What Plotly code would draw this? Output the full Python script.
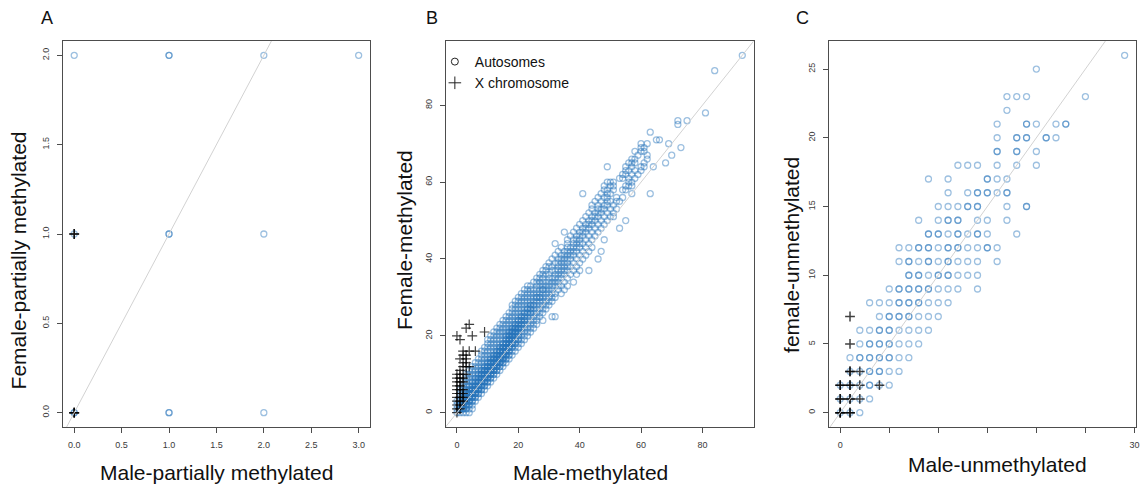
import plotly.graph_objects as go

W, H = 1143, 489

# ---------------- Panel A : partially methylated ----------------
a_auto_male   = [0, 0, 0, 0, 1, 1, 1, 1, 1, 1, 2, 2, 2, 3]
a_auto_female = [0, 0, 1, 2, 0, 0, 1, 1, 2, 2, 0, 1, 2, 2]
a_x_male   = [0, 0, 0, 0, 0]
a_x_female = [0, 0, 0, 1, 1]

# ---------------- Panel B : methylated (female value, male values) ----------------
b_auto_rows_low = [
    (0, [0, 1, 2, 3, 4]),
    (1, [0, 1, 2, 3, 4, 5]),
    (2, [0, 1, 2, 3, 4, 5]),
    (3, [0, 1, 2, 3, 4, 5, 6]),
    (4, [1, 2, 3, 4, 5, 6, 7]),
    (5, [1, 2, 3, 4, 5, 6, 7, 8]),
    (6, [1, 2, 3, 4, 5, 6, 7, 8, 9]),
    (7, [2, 3, 4, 5, 6, 7, 8, 9, 10]),
    (8, [2, 3, 4, 5, 6, 7, 8, 9, 10, 11]),
    (9, [3, 4, 5, 6, 7, 8, 9, 10, 11, 12]),
    (10, [3, 4, 5, 6, 7, 8, 9, 10, 11, 12, 13]),
    (11, [4, 5, 6, 7, 8, 9, 10, 11, 12, 13, 14]),
    (12, [5, 6, 7, 8, 9, 10, 11, 12, 13, 14, 15]),
    (13, [6, 7, 8, 9, 10, 11, 12, 13, 14, 15, 16]),
    (14, [7, 8, 9, 10, 11, 12, 13, 14, 15, 16, 17]),
    (15, [8, 9, 10, 11, 12, 13, 14, 15, 16, 17, 18]),
    (16, [8, 9, 10, 11, 12, 13, 14, 15, 16, 17, 18, 19]),
    (17, [9, 10, 11, 12, 13, 14, 15, 16, 17, 18, 19, 20]),
    (18, [10, 11, 12, 13, 14, 15, 16, 17, 18, 19, 20, 21]),
    (19, [10, 11, 12, 13, 14, 15, 16, 17, 18, 19, 20, 21, 22]),
]
b_auto_rows_mid = [
    (20, [11, 12, 13, 14, 15, 16, 17, 18, 19, 20, 21, 22, 23]),
    (21, [12, 13, 14, 15, 16, 17, 18, 19, 20, 21, 22, 23, 24]),
    (22, [13, 14, 15, 16, 17, 18, 19, 20, 21, 22, 23, 24, 25]),
    (23, [14, 15, 16, 17, 18, 19, 20, 21, 22, 23, 24, 25, 26]),
    (24, [15, 16, 17, 18, 19, 20, 21, 22, 23, 24, 25, 26, 28]),
    (25, [16, 17, 18, 19, 20, 21, 22, 23, 24, 25, 26, 27, 31, 32]),
    (26, [17, 18, 19, 20, 21, 22, 23, 24, 25, 26, 27, 28]),
    (27, [18, 19, 20, 21, 22, 23, 24, 25, 26, 27, 28, 29]),
    (28, [18, 19, 20, 21, 22, 23, 24, 25, 26, 27, 28, 29, 30]),
    (29, [19, 20, 21, 22, 23, 24, 25, 26, 27, 28, 29, 30, 31]),
    (30, [20, 21, 22, 23, 24, 25, 26, 27, 28, 29, 30, 31, 32]),
    (31, [21, 22, 23, 24, 25, 26, 27, 28, 29, 30, 31, 32, 34]),
    (32, [22, 23, 24, 25, 26, 27, 28, 29, 30, 31, 33, 35]),
    (33, [23, 24, 26, 27, 28, 29, 30, 31, 32, 33, 34, 36]),
    (34, [25, 26, 27, 28, 29, 30, 31, 32, 33, 35, 38]),
    (35, [26, 27, 28, 30, 31, 32, 33, 34, 36]),
    (36, [27, 28, 29, 30, 32, 33, 34, 35, 37, 39]),
    (37, [28, 29, 31, 32, 33, 34, 35, 36, 38, 40, 43]),
    (38, [29, 30, 31, 33, 34, 35, 36, 37, 39]),
    (39, [30, 32, 33, 34, 35, 36, 38, 40]),
]
b_auto_rows_high = [
    (40, [31, 33, 34, 35, 36, 37, 39, 41, 46]),
    (41, [32, 34, 35, 36, 37, 38, 40, 42]),
    (42, [33, 35, 36, 37, 38, 39, 41, 43, 47]),
    (43, [34, 36, 37, 38, 39, 40, 42, 44]),
    (44, [32, 36, 38, 39, 40, 41, 43]),
    (45, [36, 38, 39, 40, 42, 44, 48]),
    (46, [37, 39, 40, 41, 43, 45]),
    (47, [35, 38, 40, 41, 42, 44, 46]),
    (48, [39, 41, 42, 43, 45, 47, 53]),
    (49, [40, 42, 43, 44, 46, 48]),
    (50, [41, 43, 44, 45, 47, 49, 55]),
    (51, [42, 44, 45, 46, 48, 50, 51]),
    (52, [43, 45, 46, 47, 49, 51]),
    (53, [44, 46, 47, 48, 50, 52]),
    (54, [44, 46, 48, 49, 51]),
    (55, [45, 47, 49, 50, 52, 53]),
    (56, [46, 48, 49, 52, 54]),
    (57, [41, 47, 49, 50, 57, 63]),
    (58, [48, 49, 51, 54, 55]),
    (59, [48, 50, 51, 55, 56, 57]),
    (60, [49, 50, 51, 56, 57]),
    (61, [53, 54, 56, 58]),
    (62, [54, 55, 57, 59]),
    (63, [55, 56, 58, 60]),
    (64, [49, 55, 57, 60, 61, 64]),
    (65, [56, 57, 58, 61, 68]),
    (66, [57, 58, 62]),
    (67, [59, 62, 70]),
    (68, [58, 60, 61]),
    (69, [60, 61, 73]),
    (70, [60, 62, 69]),
    (71, [65, 66]),
    (73, [63]),
    (75, [72]),
    (76, [72, 75]),
    (78, [81]),
    (89, [84]),
    (93, [93]),
]
# loci repeated at the same coordinates in the dark core of the band
b_auto_rows_core = [
    (1, [1, 2, 3, 1, 2]),
    (2, [1, 2, 3, 4, 2, 3]),
    (3, [2, 3, 4, 5, 3, 4]),
    (4, [2, 3, 4, 5, 6, 3, 4, 5]),
    (5, [3, 4, 5, 6, 7, 4, 5, 6]),
    (6, [3, 4, 5, 6, 7, 8, 5, 6, 7]),
    (7, [4, 5, 6, 7, 8, 9, 6, 7, 8]),
    (8, [5, 6, 7, 8, 9, 10, 7, 8, 9]),
    (9, [6, 7, 8, 9, 10, 11, 8, 9, 10]),
    (10, [7, 8, 9, 10, 11, 12, 8, 9, 10, 11]),
    (11, [8, 9, 10, 11, 12, 13, 9, 10, 11, 12]),
    (12, [9, 10, 11, 12, 13, 14, 10, 11, 12, 13]),
    (13, [10, 11, 12, 13, 14, 15, 11, 12, 13, 14]),
    (14, [11, 12, 13, 14, 15, 16, 12, 13, 14, 15]),
    (15, [12, 13, 14, 15, 16, 17, 13, 14, 15, 16]),
    (16, [13, 14, 15, 16, 17, 14, 15, 16]),
    (17, [14, 15, 16, 17, 18, 15, 16, 17]),
    (18, [15, 16, 17, 18, 19, 16, 17, 18]),
    (19, [16, 17, 18, 19, 20, 17, 18]),
    (20, [16, 17, 18, 19, 20, 17, 18]),
    (21, [17, 18, 19, 20, 18, 19]),
    (22, [18, 19, 20, 21, 19, 20]),
    (23, [19, 20, 21, 22]),
    (24, [20, 21, 22]),
    (25, [21, 22]),
    (26, [22, 23, 24]),
    (27, [23, 24]),
    (28, [24, 25]),
    (30, [26, 27]),
    (32, [28]),
]
b_x_male   = [0, 0, 1, 0, 1, 0, 1, 2, 0, 1, 2, 0, 1, 2, 0, 1, 2, 0, 1, 0, 1, 2, 0, 1, 2,
              0, 1, 2, 3, 1, 2, 3, 4, 2, 3, 1, 3, 2, 3, 2, 4, 6, 1, 0, 5, 9, 3, 4]
b_x_female = [0, 1, 1, 2, 2, 3, 3, 3, 4, 4, 4, 5, 5, 5, 6, 6, 6, 7, 7, 8, 8, 8, 9, 9, 9,
              10, 10, 10, 10, 11, 12, 12, 12, 13, 13, 14, 14, 15, 15, 16, 16, 16, 19, 20, 20, 21, 22, 23]

# ---------------- Panel C : unmethylated (female value, male values) ----------------
c_auto_rows = [
    (0, [0, 1, 2]),
    (1, [0, 1, 2, 3]),
    (2, [0, 1, 2, 3, 3, 4, 5]),
    (3, [1, 2, 3, 3, 4, 4, 5, 6]),
    (4, [1, 2, 2, 3, 3, 4, 4, 5, 5, 6, 7]),
    (5, [2, 3, 3, 4, 4, 5, 5, 6, 7, 8]),
    (6, [2, 3, 4, 4, 5, 5, 6, 7, 8, 9]),
    (7, [4, 5, 5, 6, 6, 7, 7, 8, 9, 10]),
    (8, [3, 4, 5, 6, 6, 7, 7, 8, 8, 9, 10, 11]),
    (9, [5, 6, 6, 7, 7, 8, 8, 9, 9, 10, 11, 12, 14]),
    (10, [7, 7, 8, 8, 9, 10, 10, 11, 11, 12, 13, 14]),
    (11, [6, 7, 7, 8, 9, 9, 10, 11, 11, 12, 13, 14, 16]),
    (12, [6, 7, 8, 8, 9, 9, 10, 11, 11, 12, 12, 13, 14, 15, 15, 16]),
    (13, [9, 9, 10, 10, 11, 12, 12, 13, 14, 14, 15, 18]),
    (14, [8, 10, 11, 11, 12, 12, 14, 15, 17]),
    (15, [10, 11, 12, 13, 13, 14, 14, 17, 19, 19]),
    (16, [11, 13, 14, 14, 15, 15, 16, 17, 17]),
    (17, [9, 11, 15, 15, 16, 17]),
    (18, [12, 13, 14, 16, 18, 20]),
    (19, [16, 16, 18, 18, 20]),
    (20, [16, 18, 18, 19, 19, 21, 21, 22]),
    (21, [16, 19, 19, 20, 22, 23, 23]),
    (22, [17]),
    (23, [17, 18, 19, 25]),
    (25, [20]),
    (26, [29]),
]
c_x_male   = [0, 0, 0, 1, 1, 0, 0, 1, 1, 2, 0, 0, 1, 1, 2, 4, 1, 1, 2, 1, 1]
c_x_female = [0, 0, 0, 0, 0, 1, 1, 1, 1, 1, 2, 2, 2, 2, 2, 2, 3, 3, 3, 5, 7]


def flatten(*row_lists):
    xs, ys = [], []
    for rows in row_lists:
        for female, males in rows:
            for m in males:
                xs.append(m)
                ys.append(female)
    return xs, ys


b_auto_male, b_auto_female = flatten(b_auto_rows_low, b_auto_rows_mid, b_auto_rows_high, b_auto_rows_core)
c_auto_male, c_auto_female = flatten(c_auto_rows)

# ---------------- styling ----------------
AUTO_COLOR = "rgba(38,116,186,0.45)"
X_COLOR = "rgba(0,0,0,0.75)"
LINE_COLOR = "#d2d2d2"
FONT = "Liberation Sans, Arial, sans-serif"

fig = go.Figure()

panels = [
    ("x", "y", a_auto_male, a_auto_female, a_x_male, a_x_female, (-0.12, 3.12), (-0.08, 2.08), 1.5),
    ("x2", "y2", b_auto_male, b_auto_female, b_x_male, b_x_female, (-3.72, 96.72), (-3.72, 96.72), 1.2),
    ("x3", "y3", c_auto_male, c_auto_female, c_x_male, c_x_female, (-1.16, 30.16), (-1.04, 27.04), 1.5),
]

for xa, ya, am, af, xm, xf, xr, yr, cw in panels:
    fig.add_trace(go.Scatter(
        x=am, y=af, mode="markers", xaxis=xa, yaxis=ya, showlegend=False,
        marker=dict(symbol="circle-open", size=6, color=AUTO_COLOR, line=dict(width=1.3)),
        hoverinfo="skip"))
    fig.add_trace(go.Scatter(
        x=xm, y=xf, mode="markers", xaxis=xa, yaxis=ya, showlegend=False,
        marker=dict(symbol="cross-thin-open", size=7, color=X_COLOR, line=dict(width=cw)),
        hoverinfo="skip"))
    lo = min(xr[0], yr[0])
    hi = max(xr[1], yr[1])
    fig.add_trace(go.Scatter(
        x=[lo, hi], y=[lo, hi], mode="lines", xaxis=xa, yaxis=ya, showlegend=False,
        line=dict(color=LINE_COLOR, width=1), hoverinfo="skip"))

# legend entries (black symbols) for panel B
fig.add_trace(go.Scatter(x=[None], y=[None], mode="markers", xaxis="x2", yaxis="y2",
                         name="Autosomes",
                         marker=dict(symbol="circle-open", size=7, color="#222", line=dict(width=1))))
fig.add_trace(go.Scatter(x=[None], y=[None], mode="markers", xaxis="x2", yaxis="y2",
                         name="X chromosome",
                         marker=dict(symbol="cross-thin-open", size=9, color="#222", line=dict(width=1))))


def px_x(p):
    return p / W


def px_y(p):
    return 1 - p / H


y_dom = [px_y(427), px_y(41)]
x_doms = [[px_x(63), px_x(371)], [px_x(446.7), px_x(755.7)], [px_x(831), px_x(1139)]]

axis_common = dict(showgrid=False, zeroline=False, showline=True, linecolor="#4d4d4d",
                   linewidth=1, mirror=True, ticks="outside", ticklen=5, tickcolor="#4d4d4d",
                   tickwidth=1, ticklabelstandoff=4,
                   tickfont=dict(size=9, color="#3a3a3a", family=FONT))

a_xticks = [0.0, 0.5, 1.0, 1.5, 2.0, 2.5, 3.0]
a_yticks = [0.0, 0.5, 1.0, 1.5, 2.0]
b_ticks = [0, 20, 40, 60, 80]
c_xticks = [0, 5, 10, 15, 20, 25, 30]
c_xlabels = ["0", "", "", "", "", "", "30"]
c_yticks = [0, 5, 10, 15, 20, 25]

fig.update_layout(
    width=W, height=H, autosize=False,
    margin=dict(l=0, r=0, t=0, b=0),
    paper_bgcolor="white", plot_bgcolor="white",
    font=dict(family=FONT, color="#111"),
    xaxis=dict(domain=x_doms[0], range=panels[0][6], anchor="y",
               tickvals=a_xticks, ticktext=[f"{v:.1f}" for v in a_xticks], **axis_common),
    yaxis=dict(domain=y_dom, range=panels[0][7], anchor="x", tickangle=-90,
               tickvals=a_yticks, ticktext=[f"{v:.1f}" for v in a_yticks], **axis_common),
    xaxis2=dict(domain=x_doms[1], range=panels[1][6], anchor="y2", tickvals=b_ticks, **axis_common),
    yaxis2=dict(domain=y_dom, range=panels[1][7], anchor="x2", tickangle=-90, tickvals=b_ticks, **axis_common),
    xaxis3=dict(domain=x_doms[2], range=panels[2][6], anchor="y3",
                tickvals=c_xticks, ticktext=c_xlabels, **axis_common),
    yaxis3=dict(domain=y_dom, range=panels[2][7], anchor="x3", tickangle=-90, tickvals=c_yticks, **axis_common),
    legend=dict(x=px_x(436), y=px_y(46), xanchor="left", yanchor="top",
                bgcolor="rgba(0,0,0,0)", font=dict(size=14, family=FONT, color="#111"),
                itemwidth=30, tracegroupgap=0),
    showlegend=True,
)

annots = [
    ("A", 46.7, 18, 18, 0),
    ("B", 432.7, 18, 18, 0),
    ("C", 805, 18, 18, 0),
    ("Male-partially methylated", 217, 472, 21, 0),
    ("Female-partially methylated", 18.5, 260, 21, -90),
    ("Male-methylated", 591.7, 472, 21, 0),
    ("Female-methylated", 405, 240, 21, -90),
    ("Male-unmethylated", 1000, 464, 21, 0),
    ("female-unmethylated", 793, 255, 21, -90),
]
for text, px, py, size, ang in annots:
    fig.add_annotation(text=text, x=px_x(px), y=px_y(py), xref="paper", yref="paper",
                       showarrow=False, xanchor="center", yanchor="middle", textangle=ang,
                       font=dict(size=size, family=FONT, color="#111"))

fig.write_html("out.html")
